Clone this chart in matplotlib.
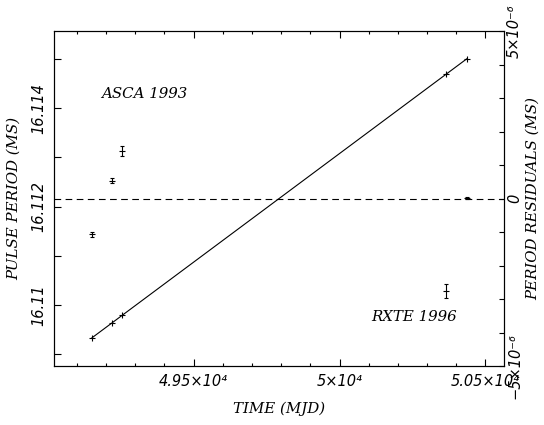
import matplotlib
matplotlib.use('Agg')
import matplotlib.pyplot as plt
import numpy as np
from matplotlib.ticker import MultipleLocator

# pulse period measurements (MJD, ms)
mjd = [49152, 49220, 49255, 50364, 50437]
period = [16.109335, 16.109628, 16.109791, 16.114701, 16.115000]

# period residuals after the linear fit (ms)
resid = [-1.07e-6, 0.53e-6, 1.43e-6, -2.76e-6, 0.03e-6]
resid_err = [0.07e-6, 0.08e-6, 0.15e-6, 0.21e-6, 0.03e-6]

xticks = [49500, 50000, 50500]
xticklabels = ['4.95×10⁴', '5×10⁴', '5.05×10⁴']
yticks = [16.110, 16.112, 16.114]
yticklabels = ['16.11', '16.112', '16.114']
rticks = [-5e-6, 0, 5e-6]
rticklabels = ['−5×10⁻⁶', '0', '5×10⁻⁶']

label_font = dict(family='DejaVu Serif', style='italic', size=10.8)
tick_font = dict(family='DejaVu Sans', style='oblique', size=10.5)

fig = plt.figure(figsize=(5.44, 4.25), dpi=100)
ax = fig.add_axes([0.0998, 0.1388, 0.827, 0.788])

# linear fit through the periods
coef = np.polyfit(mjd, period, 1)
xx = np.array([min(mjd), max(mjd)])
ax.plot(xx, np.polyval(coef, xx), color='black', lw=0.8)
ax.plot(mjd, period, '+', color='black', ms=5, mew=0.8)

ax.set_xlim(49023, 50564)
ax.set_ylim(16.10876, 16.11557)
ax.set_xticks(xticks)
ax.set_xticklabels(xticklabels, **tick_font)
ax.set_yticks(yticks)
ax.set_yticklabels(yticklabels, **tick_font)
ax.xaxis.set_minor_locator(MultipleLocator(100))
ax.yaxis.set_minor_locator(MultipleLocator(0.001))
ax.tick_params(which='both', direction='in', top=True, right=False, width=0.8)
ax.tick_params(axis='x', which='major', length=5, pad=6)
ax.tick_params(axis='x', which='minor', length=2.5)
ax.tick_params(axis='y', which='both', length=5, pad=6)
for t in ax.get_yticklabels():
    t.set_rotation(90)
    t.set_va('center')

ax.set_xlabel('TIME (MJD)', labelpad=9, **label_font)
ax.set_ylabel('PULSE PERIOD (MS)', labelpad=7, **label_font)

# residuals on the right axis
ax2 = ax.twinx()
ax2.axhline(0, color='black', lw=0.8, ls=(0, (6, 4)))
ax2.errorbar(mjd, resid, yerr=resid_err, fmt='_', color='black', ms=4,
             mew=0.8, elinewidth=0.8, capsize=1.5, capthick=0.8)
ax2.set_ylim(-5e-6, 5e-6)
ax2.set_yticks(rticks)
ax2.set_yticklabels(rticklabels, **tick_font)
ax2.yaxis.set_minor_locator(MultipleLocator(1e-6))
ax2.tick_params(which='both', direction='in', length=3.6, width=0.8, pad=2)
for t in ax2.get_yticklabels():
    t.set_rotation(90)
    t.set_va('center')
ax2.set_ylabel('PERIOD RESIDUALS (MS)', labelpad=3, **label_font)

for a in (ax, ax2):
    for s in a.spines.values():
        s.set_linewidth(0.8)

ax.text(0.104, 0.812, 'ASCA 1993', transform=ax.transAxes, va='center', **label_font)
ax.text(0.704, 0.146, 'RXTE 1996', transform=ax.transAxes, va='center', **label_font)

fig.savefig('out.png', dpi=100)
